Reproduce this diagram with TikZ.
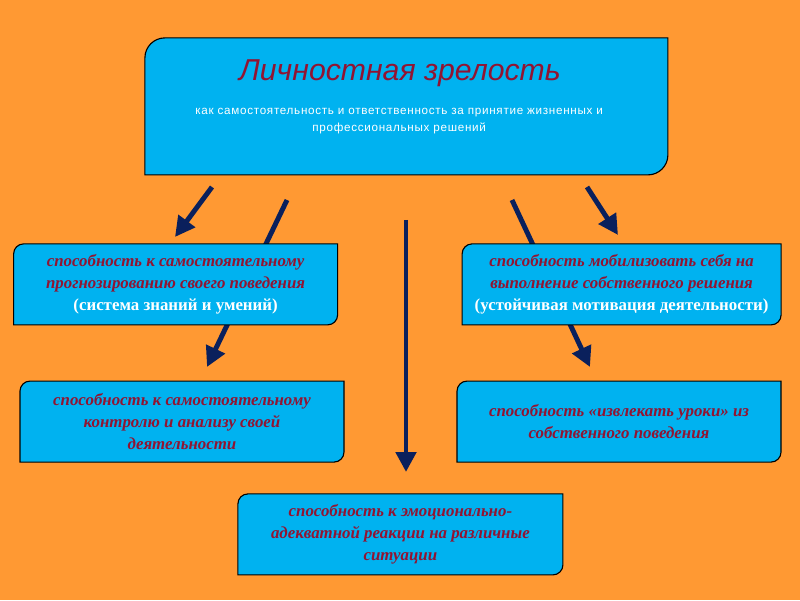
\documentclass[tikz,border=0pt]{standalone}
\usepackage{fontspec}
\setmainfont{Liberation Serif}
\newfontfamily\titlefont{Liberation Sans}
\newfontfamily\subfont[LetterSpace=6]{Liberation Sans}
\usetikzlibrary{arrows.meta}

\definecolor{bgorange}{RGB}{255,153,51}
\definecolor{boxblue}{RGB}{0,178,240}
\definecolor{wine}{RGB}{145,20,50}
\definecolor{navy}{RGB}{10,32,92}

\pgfdeclarelayer{background}
\pgfdeclarelayer{boxes}
\pgfsetlayers{background,boxes,main}

% box with rounded top-left and bottom-right corners, drawn under the node text
\newcommand{\leafshape}[2][0.25]{%
  \begin{pgfonlayer}{boxes}
    \filldraw[boxline] (#2.south west) -- ([yshift=-#1 cm]#2.north west)
      arc[start angle=180,end angle=90,radius=#1] -- (#2.north east)
      -- ([yshift=#1 cm]#2.south east)
      arc[start angle=0,end angle=-90,radius=#1] -- cycle;
  \end{pgfonlayer}}

\tikzset{
  boxline/.style={fill=boxblue, draw=black, line width=0.8pt},
  leaf/.style={inner sep=0pt, outer sep=0pt, minimum width=8.1cm, minimum height=2.025cm,
    align=center, text=wine, font=\fontsize{12}{15.6}\selectfont\bfseries\itshape},
  arrow/.style={draw=navy, line width=3.5pt, -{Triangle[length=0.5cm,width=0.5cm]}}
}

\begin{document}
\begin{tikzpicture}
  \useasboundingbox (0,0) rectangle (20,15);
  \begin{pgfonlayer}{background}
    \fill[bgorange] (0,0) rectangle (20,15);
  \end{pgfonlayer}

  % top box
  \node (maturity) [inner sep=0pt, outer sep=0pt, minimum width=13.075cm, minimum height=3.425cm]
    at (10.16,12.34) {};
  \leafshape[0.5]{maturity}
  \node (title) at (10.0,13.18) [text=wine, font=\titlefont\itshape\fontsize{21.5}{25}\selectfont]
    {Личностная зрелость};
  \node (subtitle) at (9.98,11.97) [text=white, align=center, font=\subfont\fontsize{8.3}{12}\selectfont]
    {как самостоятельность и ответственность за принятие жизненных и\\профессиональных решений};

  % abilities
  \node (prognoz) [leaf] at (4.39,7.89)
    {способность к самостоятельному\\прогнозированию своего поведения\\{\color{white}\upshape(система знаний и умений)}};
  \leafshape{prognoz}
  \node (mobil) [leaf, minimum width=7.975cm] at (15.54,7.89)
    {способность мобилизовать себя на\\выполнение собственного решения\\{\color{white}\upshape(устойчивая мотивация деятельности)}};
  \leafshape{mobil}
  \node (control) [leaf] at (4.55,4.46)
    {способность к самостоятельному\\контролю и анализу своей\\деятельности};
  \leafshape{control}
  \node (lessons) [leaf] at (15.475,4.46)
    {способность «извлекать уроки» из\\собственного поведения};
  \leafshape{lessons}
  \node (emotion) [leaf, minimum width=8.125cm] at (10.01,1.64)
    {способность к эмоционально-\\адекватной реакции на различные\\ситуации};
  \leafshape{emotion}

  % arrows
  \coordinate (a1) at (5.3,10.325);
  \coordinate (b1) at (4.375,9.075);
  \coordinate (a2) at (7.175,10.0);
  \coordinate (b2) at (5.175,5.825);
  \coordinate (a3) at (10.15,9.5);
  \coordinate (b3) at (10.15,3.2);
  \coordinate (a4) at (12.8,10.0);
  \coordinate (b4) at (14.75,5.825);
  \coordinate (a5) at (14.675,10.325);
  \coordinate (b5) at (15.45,9.125);
  \begin{pgfonlayer}{background}
    \draw[arrow] (a1) -- (b1);
    \draw[arrow] (a2) -- (b2);
    \draw[arrow] (a3) -- (b3);
    \draw[arrow] (a4) -- (b4);
    \draw[arrow] (a5) -- (b5);
  \end{pgfonlayer}
\end{tikzpicture}
\end{document}
